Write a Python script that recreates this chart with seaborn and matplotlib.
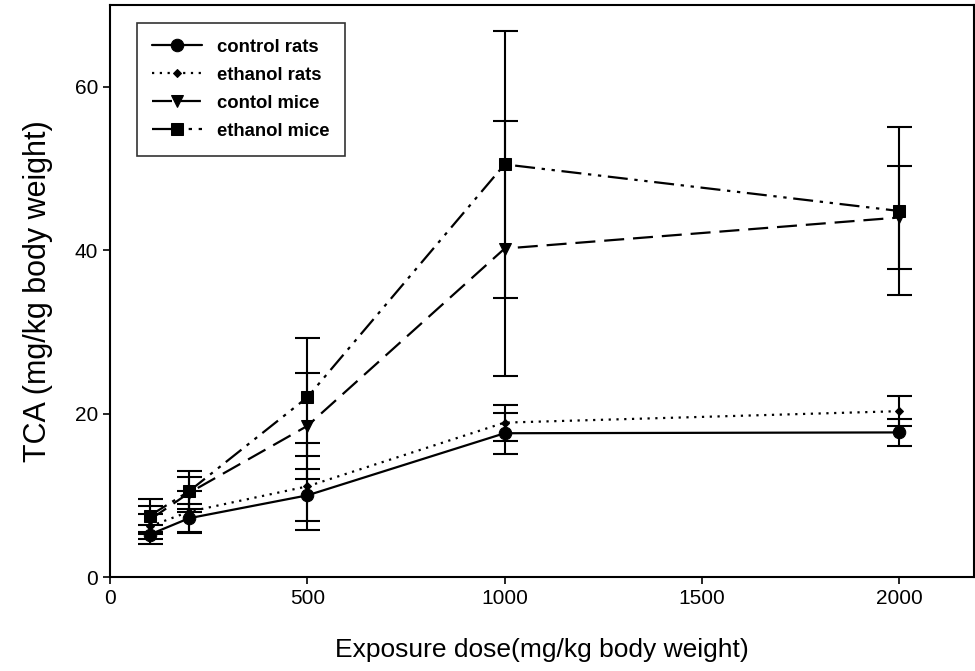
import numpy as np
import pandas as pd
import matplotlib
matplotlib.use("Agg")
import matplotlib.pyplot as plt
import seaborn as sns

# doses (mg/kg body weight)
dose = [100, 200, 500, 1000, 2000]

# TCA means and error values
ctrl_rats = [5.2, 7.2, 10.0, 17.6, 17.7]
ctrl_rats_err = [1.2, 1.8, 3.2, 2.5, 1.7]
eth_rats = [6.2, 8.0, 11.1, 18.9, 20.3]
eth_rats_err = [1.5, 2.5, 5.3, 2.2, 1.8]
ctrl_mice = [7.0, 10.3, 18.5, 40.2, 44.0]
ctrl_mice_err = [1.7, 2.0, 6.5, 15.6, 6.3]
eth_mice = [7.5, 10.5, 22.0, 50.5, 44.8]
eth_mice_err = [2.0, 2.5, 7.2, 16.3, 10.3]

labels = ["control rats", "ethanol rats", "contol mice", "ethanol mice"]
means = [ctrl_rats, eth_rats, ctrl_mice, eth_mice]
errs = [ctrl_rats_err, eth_rats_err, ctrl_mice_err, eth_mice_err]

marker_of = ["o", "D", "v", "s"]
size_of = [10, 4.5, 10, 9]
style_of = ["-", (0, (1, 2.5)), (0, (9, 4)), (0, (9, 3, 1.5, 3, 1.5, 3))]

sns.set_style("white")
plt.rcParams["font.family"] = ["Liberation Sans", "DejaVu Sans"]
plt.rcParams["text.color"] = "black"
plt.rcParams["axes.labelcolor"] = "black"
plt.rcParams["xtick.color"] = "black"
plt.rcParams["ytick.color"] = "black"

fig = plt.figure(figsize=(9.75, 6.71), dpi=100)
ax = fig.add_axes([0.113, 0.14, 0.886, 0.8525])

for lab, m, e, mk, ms, ls in zip(labels, means, errs, marker_of, size_of, style_of):
    df = pd.DataFrame({"dose": dose, "tca": m, "err": e})
    ax.errorbar(df["dose"], df["tca"], yerr=df["err"], fmt="none",
                ecolor="black", elinewidth=1.5, capsize=9, capthick=1.5, zorder=2)
    sns.lineplot(data=df, x="dose", y="tca", marker=mk, markersize=ms,
                 linestyle=ls, color="black", linewidth=1.6,
                 markeredgecolor="black", label=lab, ax=ax, zorder=3)

ax.set_xlim(0, 2190)
ax.set_ylim(0, 70)
ax.set_xticks([0, 500, 1000, 1500, 2000])
ax.set_yticks([0, 20, 40, 60])
ax.tick_params(axis="both", direction="out", length=5, width=1.2,
               labelsize=15, bottom=True, left=True, color="black")
for sp in ax.spines.values():
    sp.set_color("black")
    sp.set_linewidth(1.5)

ax.set_xlabel("Exposure dose(mg/kg body weight)", fontsize=19, labelpad=22)
ax.set_ylabel("TCA (mg/kg body weight)", fontsize=22, labelpad=16)

handles, hlabels = ax.get_legend_handles_labels()
for h, ms in zip(handles, size_of):
    h.set_markersize(ms * 0.9)
leg = ax.legend(handles, hlabels, loc="upper left", bbox_to_anchor=(0.02, 0.985),
                frameon=True, fancybox=False, edgecolor="black", fontsize=13.3,
                handlelength=2.7, borderpad=0.85, labelspacing=0.6)
leg.get_frame().set_linewidth(1.2)
for t in leg.get_texts():
    t.set_fontweight("bold")

fig.savefig("out.png", dpi=100)
